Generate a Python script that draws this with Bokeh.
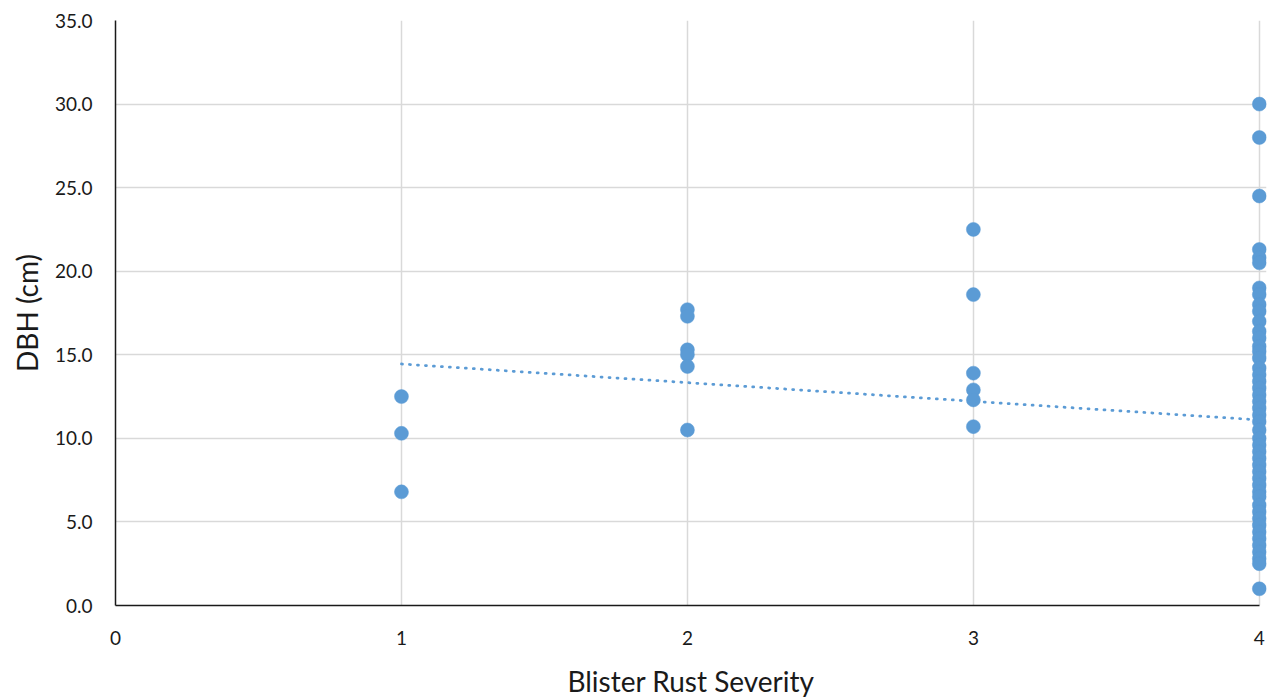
from bokeh.plotting import figure
from bokeh.models import ColumnDataSource, Range1d, FixedTicker, CustomJSTickFormatter
from bokeh.embed import file_html
from bokeh.resources import INLINE

# ---- data ----
sev1 = [12.5, 10.3, 6.8]
sev2 = [17.7, 17.3, 15.3, 15.0, 14.3, 10.5]
sev3 = [22.5, 18.6, 13.9, 12.9, 12.3, 10.7]
sev4 = [30.0, 28.0, 24.5, 21.3, 20.8, 20.5, 19.0, 18.6, 18.0, 17.6, 17.0,
        16.4, 16.0, 15.5, 15.2, 14.8, 14.2, 13.8, 13.4, 13.0, 12.6, 12.2,
        11.8, 11.4, 11.0, 10.5, 10.0, 9.6, 9.2, 8.8, 8.4, 8.0, 7.6, 7.2,
        6.8, 6.5, 6.0, 5.6, 5.2, 4.8, 4.4, 4.0, 3.6, 3.2, 2.8, 2.5, 1.0]
trend_x = [1, 4]
trend_y = [14.45, 11.1]
x_ticks = [0, 1, 2, 3, 4]
y_ticks = [0, 5, 10, 15, 20, 25, 30, 35]

xs, ys = [], []
for sev, vals in ((1, sev1), (2, sev2), (3, sev3), (4, sev4)):
    xs += [sev] * len(vals)
    ys += vals
src = ColumnDataSource(dict(x=xs, y=ys))

FONT = "Lato"
BLUE = "#5B9BD5"

p = figure(width=1270, height=700, output_backend="svg", toolbar_location=None,
           x_range=Range1d(0, 4.025), y_range=Range1d(0, 35),
           min_border_left=115, min_border_right=4, min_border_top=20,
           min_border_bottom=93)
p.outline_line_color = None
p.background_fill_color = "white"
p.border_fill_color = "white"

p.xaxis.ticker = FixedTicker(ticks=x_ticks)
p.yaxis.ticker = FixedTicker(ticks=y_ticks)
p.yaxis.formatter = CustomJSTickFormatter(code="return tick.toFixed(1);")
p.xaxis.bounds = (0, 4)

for ax in (p.xaxis[0], p.yaxis[0]):
    ax.major_tick_line_color = None
    ax.minor_tick_line_color = None
    ax.axis_line_color = "#1a1a1a"
    ax.axis_line_width = 1.5
    ax.major_label_text_font = FONT
    ax.major_label_text_font_size = "19px"
    ax.major_label_text_color = "#1a1a1a"
    ax.axis_label_text_font = FONT
    ax.axis_label_text_font_size = "28px"
    ax.axis_label_text_font_style = "normal"
    ax.axis_label_text_color = "#1a1a1a"

p.xaxis.axis_label = "Blister Rust Severity"
p.yaxis.axis_label = "DBH (cm)"
p.xaxis.major_label_standoff = 19
p.xaxis.axis_label_standoff = 16
p.yaxis.major_label_standoff = 17
p.yaxis.axis_label_standoff = 8

p.xgrid.ticker = FixedTicker(ticks=[1, 2, 3, 4])
p.ygrid.ticker = FixedTicker(ticks=[5, 10, 15, 20, 25, 30, 35])
p.grid.grid_line_color = "#D9D9D9"
p.grid.grid_line_width = 1.5

p.scatter("x", "y", source=src, size=14, fill_color=BLUE, line_color=BLUE,
          line_width=0.5)
p.line(trend_x, trend_y, line_color=BLUE, line_width=2.75, line_dash="1 7",
       line_cap="round")

open("out.html", "w").write(file_html(p, INLINE))
